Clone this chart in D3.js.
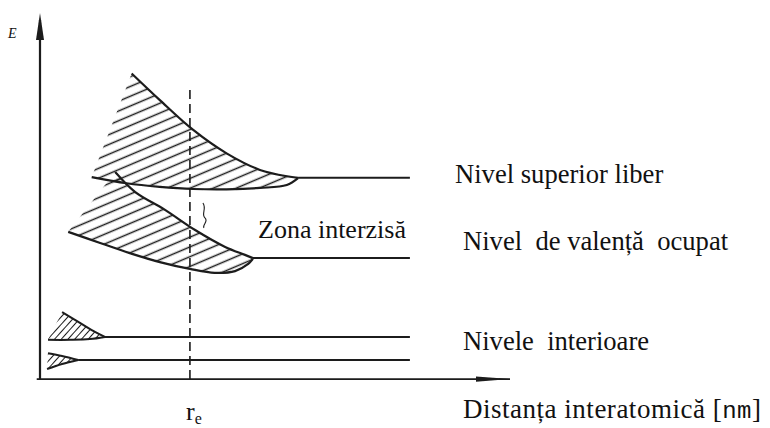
<!DOCTYPE html>
<html>
<head>
<meta charset="utf-8">
<script src="https://cdn.jsdelivr.net/npm/d3@7"></script>
<style>
  body { margin: 0; background: #fff; }
  svg { display: block; }
  text { font-family: "Liberation Serif", "Times New Roman", serif; fill: #111; white-space: pre; }
</style>
</head>
<body>
<svg id="chart" width="770" height="428"></svg>
<script>
// Energy bands versus interatomic distance (arbitrary units: distance 0..10, energy 0..10)

// Upper (free) band: upper and lower edges
const conductionUpper = [[1.95, 8.46], [2.55, 7.72], [3.26, 6.89], [3.97, 6.24], [4.68, 5.78], [5.32, 5.59], [5.49, 5.56]];
const conductionLower = [[1.10, 5.58], [1.84, 5.41], [2.55, 5.31], [3.26, 5.25], [3.97, 5.24], [4.68, 5.28], [5.25, 5.36], [5.49, 5.55]];

// Valence (occupied) band
const valenceUpper = [[1.60, 5.72], [2.02, 5.17], [2.66, 4.67], [3.30, 4.11], [3.94, 3.64], [4.36, 3.42], [4.53, 3.33]];
const valenceLower = [[0.60, 4.06], [1.28, 3.75], [1.91, 3.47], [2.55, 3.22], [3.19, 3.03], [3.72, 2.92], [4.15, 2.97], [4.43, 3.17], [4.53, 3.31]];

// Inner levels: small wedges at short distance
const inner1Upper = [[0.47, 1.83], [0.85, 1.53], [1.17, 1.28], [1.38, 1.14]];
const inner1Lower = [[0.17, 1.06], [0.64, 1.06], [1.06, 1.08], [1.38, 1.14]];
const inner2Upper = [[0.17, 0.69], [0.47, 0.61], [0.81, 0.50]];
const inner2Lower = [[0.15, 0.25], [0.47, 0.39], [0.81, 0.50]];

// Atomic levels beyond the bands: [start distance, energy]
const levelStarts = [[5.49, 5.56], [4.53, 3.33], [1.38, 1.14], [0.81, 0.50]];
const levelEnd = 7.87;

// Equilibrium distance
const rEquilibrium = 3.19;
const rDashTop = 8.0;

// Texts
const axisLabelY = "E";
const axisLabelX = ["Distanța interatomică [", "nm", "]"];
const levelLabels = ["Nivel superior liber", "Nivel  de valență  ocupat", "Nivele  interioare"];
const gapLabel = "Zona interzisă";
const rLabel = ["r", "e"];

const svg = d3.select("#chart");
const x = d3.scaleLinear().domain([0, 10]).range([40, 510]);
const y = d3.scaleLinear().domain([0, 10]).range([378, 18]);

const ink = "#1b1b1b";
const defs = svg.append("defs");

// soft scanned look for the drawing
defs.append("filter").attr("id", "soft")
  .append("feGaussianBlur").attr("stdDeviation", 0.45);

function hatch(id, gap, angle, w) {
  const p = defs.append("pattern")
    .attr("id", id)
    .attr("patternUnits", "userSpaceOnUse")
    .attr("width", 40).attr("height", gap)
    .attr("patternTransform", `rotate(${angle})`);
  p.append("line")
    .attr("x1", 0).attr("x2", 40)
    .attr("y1", gap / 2).attr("y2", gap / 2)
    .attr("stroke", ink).attr("stroke-width", w);
}
hatch("hatchBig", 9, -23, 1.3);
hatch("hatchSmall", 5, -48, 1.2);

const g = svg.append("g").attr("filter", "url(#soft)");

const edge = d3.line()
  .x(d => x(d[0])).y(d => y(d[1]))
  .curve(d3.curveCatmullRom.alpha(0.5));

function band(upper, lower, fillId, sw) {
  const outline = edge(upper) + edge(lower.slice().reverse()).replace(/^M/, "L") + "Z";
  g.append("path").attr("d", outline).attr("fill", `url(#${fillId})`).attr("stroke", "none");
  g.append("path").attr("d", edge(upper)).attr("fill", "none").attr("stroke", ink).attr("stroke-width", sw);
  g.append("path").attr("d", edge(lower)).attr("fill", "none").attr("stroke", ink).attr("stroke-width", sw);
}

band(conductionUpper, conductionLower, "hatchBig", 2.2);
band(valenceUpper, valenceLower, "hatchBig", 2.2);
band(inner1Upper, inner1Lower, "hatchSmall", 2.0);
band(inner2Upper, inner2Lower, "hatchSmall", 2.0);

// level lines
g.selectAll("line.level").data(levelStarts).join("line")
  .attr("class", "level")
  .attr("x1", d => x(d[0])).attr("x2", x(levelEnd))
  .attr("y1", d => y(d[1])).attr("y2", d => y(d[1]))
  .attr("stroke", ink).attr("stroke-width", 2);

// equilibrium distance dashed line
g.append("line")
  .attr("x1", x(rEquilibrium)).attr("x2", x(rEquilibrium))
  .attr("y1", y(rDashTop)).attr("y2", y(-0.05))
  .attr("stroke", ink).attr("stroke-width", 1.6)
  .attr("stroke-dasharray", "9,5");

// forbidden-gap marker next to the dashed line
const gx = x(rEquilibrium) + 14;
g.append("path")
  .attr("d", `M${gx - 1},${y(4.86)} C${gx + 3},${y(4.7)} ${gx - 3},${y(4.55)} ${gx + 1},${y(4.45)} S${gx - 2},${y(4.25)} ${gx},${y(4.17)}`)
  .attr("fill", "none").attr("stroke", ink).attr("stroke-width", 1.1);

// axes
g.append("line")
  .attr("x1", x(0)).attr("x2", x(0))
  .attr("y1", y(-0.03)).attr("y2", 20)
  .attr("stroke", ink).attr("stroke-width", 2.2);
g.append("path")
  .attr("d", `M${x(0)},13 L${x(0) + 4},40 L${x(0) - 4},40 Z`)
  .attr("fill", ink);
g.append("line")
  .attr("x1", x(-0.07)).attr("x2", x(10))
  .attr("y1", y(-0.03)).attr("y2", y(-0.03))
  .attr("stroke", ink).attr("stroke-width", 1.8);
g.append("path")
  .attr("d", `M${x(10)},${y(-0.03)} L${x(10) - 34},${y(-0.03) - 2.6} L${x(10) - 34},${y(-0.03) + 2.6} Z`)
  .attr("fill", ink);

// axis labels
svg.append("text").attr("x", 8).attr("y", 38)
  .style("font-style", "italic").style("font-size", "14px")
  .text(axisLabelY);

const xl = svg.append("text").attr("x", 463).attr("y", 418)
  .attr("textLength", 298).attr("lengthAdjust", "spacing")
  .style("font-size", "27px");
xl.append("tspan").text(axisLabelX[0]);
xl.append("tspan").style("font-family", "'Liberation Mono', monospace").style("font-size", "24px").text(axisLabelX[1]);
xl.append("tspan").text(axisLabelX[2]);

const re = svg.append("text").attr("x", 186).attr("y", 420).style("font-size", "26px");
re.append("tspan").text(rLabel[0]);
re.append("tspan").attr("dy", 4).style("font-size", "16px").text(rLabel[1]);

// level labels
const labelPos = [[455, 183], [463, 250], [463, 350]];
svg.selectAll("text.lvl").data(levelLabels).join("text")
  .attr("class", "lvl")
  .attr("x", (d, i) => labelPos[i][0]).attr("y", (d, i) => labelPos[i][1])
  .style("font-size", "26.6px")
  .text(d => d);

svg.append("text").attr("x", 258).attr("y", 238).style("font-size", "26px").text(gapLabel);
</script>
</body>
</html>
